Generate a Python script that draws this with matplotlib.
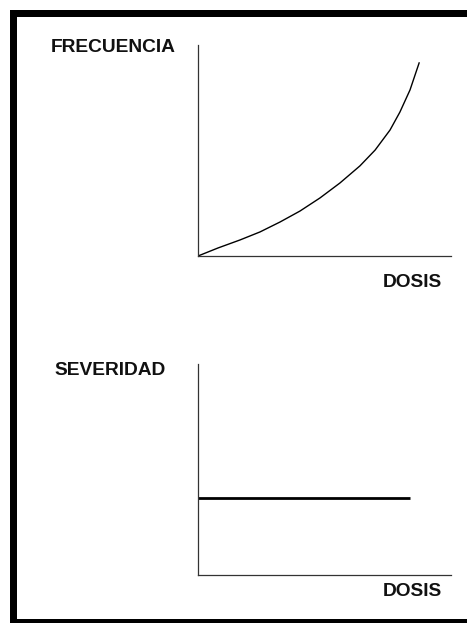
import matplotlib
matplotlib.use("Agg")
import matplotlib.pyplot as plt
from matplotlib.patches import Rectangle

plt.rcParams['font.family'] = ['Liberation Sans', 'DejaVu Sans']

# Data (axes run 0..1 on both scales)
freq_dose = [0.0, 0.079, 0.166, 0.245, 0.324, 0.403, 0.482, 0.561, 0.640, 0.700, 0.759, 0.798, 0.838, 0.874]
freq_value = [0.0, 0.038, 0.076, 0.114, 0.161, 0.213, 0.275, 0.346, 0.427, 0.502, 0.597, 0.682, 0.787, 0.915]
sev_dose = [0.0, 0.838]
sev_value = [0.365, 0.365]
y_labels = ["FRECUENCIA", "SEVERIDAD"]
x_label = "DOSIS"

fig = plt.figure(figsize=(4.67, 6.23), dpi=100)
fig.patch.set_facecolor('white')

def px(x0, y0, w, h):
    W, H = 467, 623
    return (x0 / W, 1 - (y0 + h) / H, w / W, h / H)

# frame (right side cropped off in reference)
for box in [(10, 10, 7, 613), (10, 10, 457, 7), (10, 619, 457, 4)]:
    fx, fy, fw, fh = px(*box)
    fig.add_artist(Rectangle((fx, fy), fw, fh, transform=fig.transFigure,
                             facecolor='black', edgecolor='none'))

ax1 = fig.add_axes([198/467, 1-256/623, 253/467, 211/623])
ax2 = fig.add_axes([198/467, 1-575/623, 253/467, 211/623])

for ax in (ax1, ax2):
    ax.set_xlim(0, 1)
    ax.set_ylim(0, 1)
    ax.set_xticks([])
    ax.set_yticks([])
    ax.spines['top'].set_visible(False)
    ax.spines['right'].set_visible(False)
    for s in ('left', 'bottom'):
        ax.spines[s].set_color('#333333')
        ax.spines[s].set_linewidth(0.9)
    ax.patch.set_alpha(0)

ax1.plot(freq_dose, freq_value, color='black', lw=1.0, solid_joinstyle='round')
ax2.plot(sev_dose, sev_value, color='black', lw=2.0, solid_capstyle='butt')

tkw = dict(fontsize=13.8, fontweight='bold', color='#111111', ha='center', va='baseline')
fig.text(113/467, 1-52/623, y_labels[0], **tkw)
fig.text(110/467, 1-375/623, y_labels[1], **tkw)
fig.text(412/467, 1-287/623, x_label, **tkw)
fig.text(412/467, 1-596/623, x_label, **tkw)

fig.savefig("out.png", dpi=100, facecolor='white')
